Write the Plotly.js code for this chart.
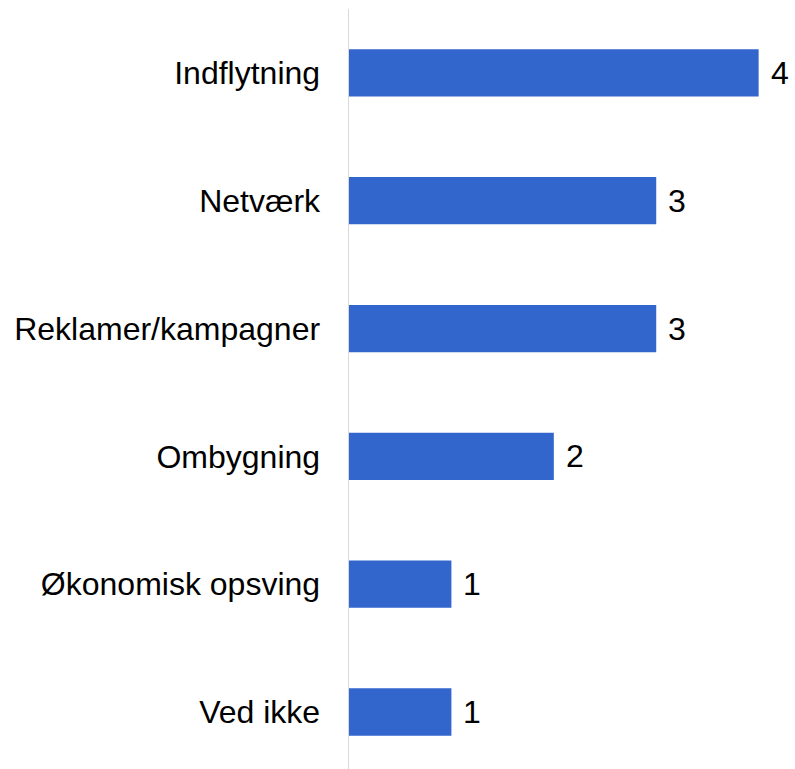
<!DOCTYPE html>
<html>
<head>
<meta charset="utf-8">
<script src="https://cdn.plot.ly/plotly-3.0.1.min.js"></script>
<style>html,body{margin:0;padding:0;background:#fff;}</style>
</head>
<body>
<div id="chart" style="width:795px;height:769px;"></div>
<script>
const categories = ["Indflytning", "Netværk", "Reklamer/kampagner", "Ombygning", "Økonomisk opsving", "Ved ikke"];
const values = [4, 3, 3, 2, 1, 1];
const valueLabels = ["4", "3", "3", "2", "1", "1"];

const font = {family: "'Liberation Sans', Arial, sans-serif", size: 32, color: "#000"};

const trace = {
  type: "bar",
  orientation: "h",
  x: values,
  y: categories,
  marker: {color: "#3366CC"},
  hoverinfo: "none"
};

const annotations = categories.map((c, i) => ({
  x: values[i], y: c, xref: "x", yref: "y",
  text: valueLabels[i], showarrow: false,
  xanchor: "left", yanchor: "middle", xshift: 10,
  font: font
}));

const layout = {
  width: 795, height: 769,
  margin: {l: 349, r: 0, t: 9, b: 0, pad: 0},
  paper_bgcolor: "#fff", plot_bgcolor: "#fff",
  showlegend: false,
  bargap: 0.63,
  font: font,
  xaxis: {range: [0, 4.355], visible: false, showgrid: false, zeroline: false, fixedrange: true},
  yaxis: {
    type: "category",
    categoryorder: "array", categoryarray: categories,
    range: [5.446, -0.5],
    showline: true, linecolor: "#d9d9d9", linewidth: 1.5,
    showgrid: false, zeroline: false, ticks: "",
    ticklabelstandoff: 21,
    tickfont: font, fixedrange: true
  },
  annotations: annotations
};

Plotly.newPlot("chart", [trace], layout, {displayModeBar: false, staticPlot: true});
</script>
</body>
</html>
